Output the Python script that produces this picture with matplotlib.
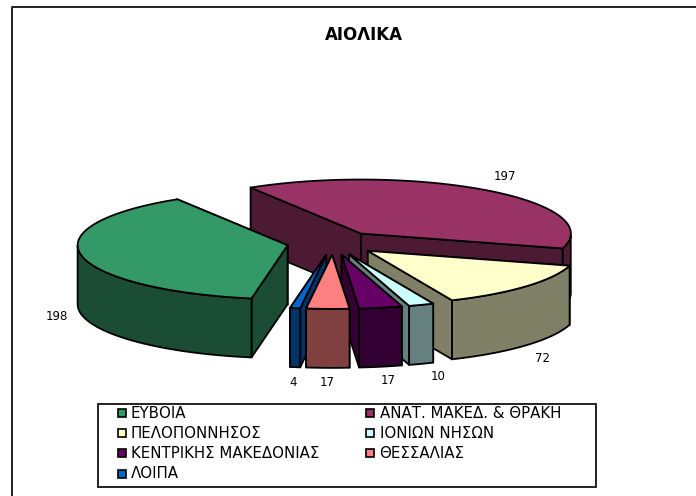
"""3D exploded pie - ΑΙΟΛΙΚΑ, drawn on a pixel sized axes"""

import numpy as np
import matplotlib
matplotlib.use('Agg')
import matplotlib.pyplot as plt
from matplotlib.patches import Polygon, Rectangle

plt.rcParams['font.family'] = ['DejaVu Sans']

names = ['ΕΥΒΟΙΑ', 'ΑΝΑΤ. ΜΑΚΕΔ. & ΘΡΑΚΗ', 'ΠΕΛΟΠΟΝΝΗΣΟΣ', 'ΙΟΝΙΩΝ ΝΗΣΩΝ',
         'ΚΕΝΤΡΙΚΗΣ ΜΑΚΕΔΟΝΙΑΣ', 'ΘΕΣΣΑΛΙΑΣ', 'ΛΟΙΠΑ']
values = [198, 197, 72, 10, 17, 17, 4]
top_colors = ['#339966', '#993366', '#ffffcc', '#ccffff', '#660066', '#ff8080', '#0066cc']
side_colors = ['#1a4d33', '#4d1a33', '#808066', '#668080', '#330033', '#804040', '#003366']
title = 'ΑΙΟΛΙΚΑ'

# pie geometry in pixels
CX, CY = 333, 243
RX, RY = 210, 54
DEPTH = 59
EXPLODE = 0.22
START = 260.1
DRAW_ORDER = [1, 0, 2, 3, 4, 6, 5]


def xy(cx, cy, deg):
    rad = np.radians(deg)
    return cx + RX * np.cos(rad), cy - RY * np.sin(rad)


def draw_slice(ax, a0, a1, top, side):
    """Slice goes clockwise from a0 down to a1"""
    mid = (a0 + a1) / 2
    ax0, ay0 = xy(CX, CY, mid)
    cx = CX + EXPLODE * (ax0 - CX)
    cy = CY + EXPLODE * (ay0 - CY)
    style = dict(edgecolor='black', linewidth=1.3, joinstyle='miter')

    angles = np.linspace(a0, a1, 60)
    arc = np.column_stack(xy(cx, cy, angles))

    # cut faces, the one reaching further down goes last
    faces = sorted([arc[0], arc[-1]], key=lambda p: p[1])
    for p in faces:
        pts = [(cx, cy), p, (p[0], p[1] + DEPTH), (cx, cy + DEPTH)]
        ax.add_patch(Polygon(pts, closed=True, facecolor=side, **style))

    # outer wall, only the front half of the ellipse
    front = angles[np.sin(np.radians(angles)) <= 0]
    if len(front) > 1:
        f = np.column_stack(xy(cx, cy, front))
        low = f + [0, DEPTH]
        ax.add_patch(Polygon(np.vstack([f, low[::-1]]), closed=True, facecolor=side, **style))

    ax.add_patch(Polygon(np.vstack([[(cx, cy)], arc]), closed=True, facecolor=top, **style))


fig = plt.figure(figsize=(6.96, 4.96), dpi=100, facecolor='white')
ax = fig.add_axes([0, 0, 1, 1])
ax.set_xlim(0, 696)
ax.set_ylim(496, 0)
ax.axis('off')

# chart frame, open on the right and at the bottom
ax.plot([11.5, 11.5, 696], [496, 6.5, 6.5], color='#222222', lw=1.4)

ax.text(364, 35, title, fontsize=12, fontweight='bold', ha='center', va='center')

sweep = np.array(values) / sum(values) * 360
ends = START - np.cumsum(sweep)
starts = ends + sweep
for i in DRAW_ORDER:
    draw_slice(ax, starts[i], ends[i], top_colors[i], side_colors[i])

label_pos = [(57, 317), (505, 176), (542, 358), (438, 377), (388, 381), (327, 383), (293, 382)]
for i, v in enumerate(values):
    ax.text(label_pos[i][0], label_pos[i][1], str(v), fontsize=8.5, ha='center', va='center')

# legend
ax.add_patch(Rectangle((97.5, 403.5), 498.5, 83.5, facecolor='white', edgecolor='#222222', lw=1.4))
col_x = [117.5, 366]
row_y = [413, 433, 453, 474]
for i, name in enumerate(names):
    x = col_x[i % 2]
    y = row_y[i // 2]
    ax.add_patch(Rectangle((x, y - 4), 8, 8, facecolor=top_colors[i], edgecolor='black', lw=1.2))
    ax.text(x + 13.5, y, name, fontsize=10.8, ha='left', va='center')

fig.savefig('out.png', dpi=100, facecolor='white')
